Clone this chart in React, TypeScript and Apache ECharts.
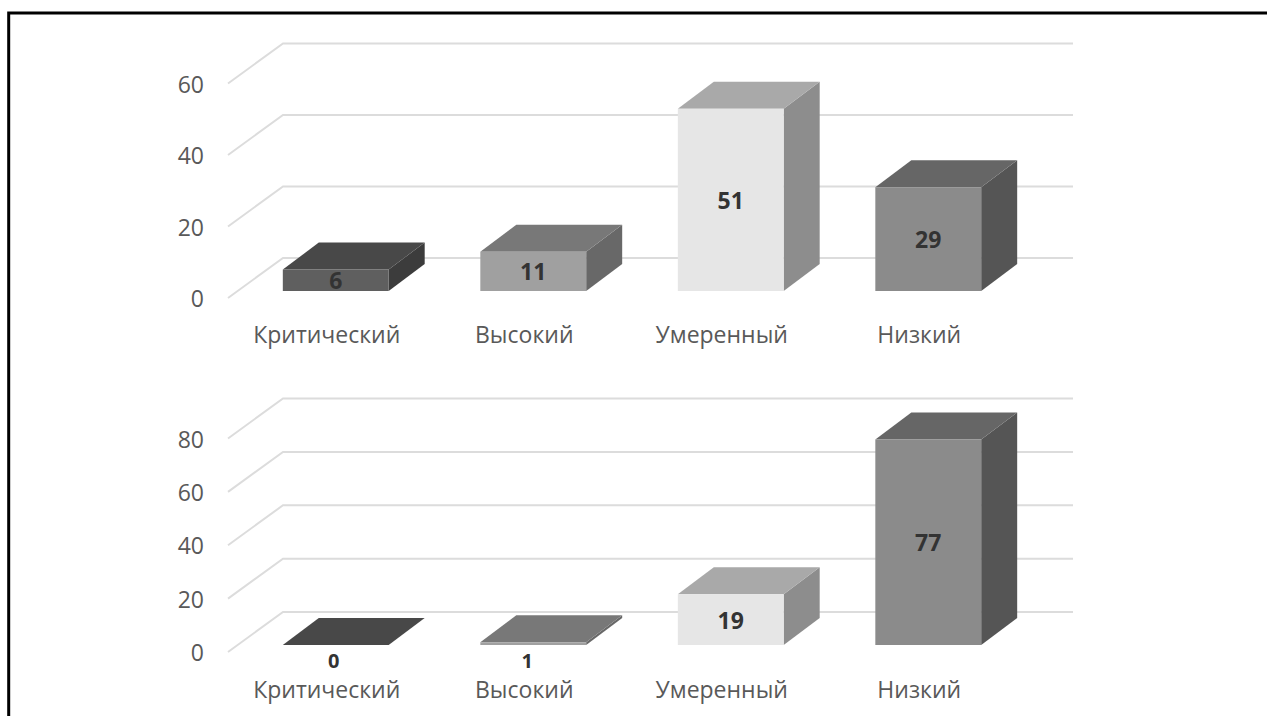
import React, { useEffect, useRef } from "react";
import * as echarts from "echarts";

// Risk levels shared by both panels
const categories = ["Критический", "Высокий", "Умеренный", "Низкий"];
const upperValues = [6, 11, 51, 29];
const lowerValues = [0, 1, 19, 77];
const upperTicks = [0, 20, 40, 60];
const lowerTicks = [0, 20, 40, 60, 80];

// Grey shades per level: front, top and side faces of each box
const frontColors = ["#5f5f5f", "#a0a0a0", "#e6e6e6", "#8b8b8b"];
const topColors = ["#484848", "#787878", "#a9a9a9", "#666666"];
const sideColors = ["#3c3c3c", "#686868", "#8d8d8d", "#555555"];

const FONT = '"Open Sans", "Noto Sans", sans-serif';
const GRID_COLOR = "#dcdcdc";
const LABEL_COLOR = "#595959";

// Projection of the pseudo-3D scene
const WALL_DX = 55;
const WALL_DY = -40;
const BOX_DX = 36;
const BOX_DY = -27;
const BOX_SHIFT_X = 9;
const BOX_SHIFT_Y = -7;
const BOX_WIDTH_RATIO = 0.536;

// Labels of very low boxes sit under the box, nudged a little to the left
const LOW_VALUE_LIMIT = 5;
const lowLabelNudge = [-2, -6, 0, 0];

function renderWall(params: any, api: any) {
  const y = api.coord([0, api.value(1)])[1];
  const cs = params.coordSys;
  return {
    type: "polyline",
    silent: true,
    shape: {
      points: [
        [cs.x, y],
        [cs.x + WALL_DX, y + WALL_DY],
        [cs.x + cs.width + WALL_DX, y + WALL_DY],
      ],
    },
    style: { stroke: GRID_COLOR, lineWidth: 2, fill: "none" },
  };
}

function renderBox(params: any, api: any) {
  const i = api.value(0);
  const value = api.value(1);
  const w = api.size([1, 0])[0] * BOX_WIDTH_RATIO;
  const [cx, topRaw] = api.coord([i, value]);
  const baseRaw = api.coord([i, 0])[1];
  const left = cx + BOX_SHIFT_X - w / 2;
  const right = left + w;
  const top = topRaw + BOX_SHIFT_Y;
  const base = baseRaw + BOX_SHIFT_Y;
  const low = value < LOW_VALUE_LIMIT;
  const labelX = left + w / 2 + (low ? lowLabelNudge[i] : 0);
  const labelY = low ? base + 15 : (top + base) / 2;
  return {
    type: "group",
    children: [
      {
        type: "polygon",
        shape: { points: [[right, base], [right + BOX_DX, base + BOX_DY], [right + BOX_DX, top + BOX_DY], [right, top]] },
        style: { fill: sideColors[i] },
      },
      {
        type: "polygon",
        shape: { points: [[left, top], [left + BOX_DX, top + BOX_DY], [right + BOX_DX, top + BOX_DY], [right, top]] },
        style: { fill: topColors[i] },
      },
      {
        type: "rect",
        shape: { x: left, y: top, width: w, height: base - top },
        style: { fill: frontColors[i] },
      },
      {
        type: "text",
        style: {
          text: String(value),
          x: labelX,
          y: labelY,
          align: "center",
          verticalAlign: "middle",
          fontFamily: FONT,
          fontSize: low ? 20 : 23,
          fontWeight: 700,
          fill: "#333333",
        },
      },
    ],
  };
}

function panelAxes(gridIndex: number, max: number, labelMargin: number) {
  return {
    x: {
      type: "category",
      gridIndex,
      data: categories,
      axisLine: { show: false },
      axisTick: { show: false },
      splitLine: { show: false },
      axisLabel: { color: LABEL_COLOR, fontFamily: FONT, fontSize: 23, margin: labelMargin, interval: 0 },
    },
    y: {
      type: "value",
      gridIndex,
      min: 0,
      max,
      interval: 20,
      axisLine: { show: false },
      axisTick: { show: false },
      splitLine: { show: false },
      axisLabel: { color: LABEL_COLOR, fontFamily: FONT, fontSize: 23, margin: 24 },
    },
  };
}

function panelSeries(gridIndex: number, ticks: number[], values: number[]) {
  return [
    {
      type: "custom",
      xAxisIndex: gridIndex,
      yAxisIndex: gridIndex,
      renderItem: renderWall,
      data: ticks.map((t) => [0, t]),
      silent: true,
      z: 1,
    },
    {
      type: "custom",
      xAxisIndex: gridIndex,
      yAxisIndex: gridIndex,
      renderItem: renderBox,
      data: values.map((v, i) => [i, v]),
      z: 2,
    },
  ];
}

export default function App() {
  const ref = useRef<HTMLDivElement>(null);

  useEffect(() => {
    document.body.style.margin = "0";
    document.body.style.background = "#ffffff";
    const chart = echarts.init(ref.current!, undefined, { renderer: "svg" });
    const upper = panelAxes(0, 60, 24);
    const lower = panelAxes(1, 80, 25);
    chart.setOption({
      animation: false,
      backgroundColor: "#ffffff",
      grid: [
        { left: 228, top: 83.5, width: 790, height: 214.5 },
        { left: 228, top: 438.5, width: 790, height: 213.5 },
      ],
      xAxis: [upper.x, lower.x],
      yAxis: [upper.y, lower.y],
      series: [...panelSeries(0, upperTicks, upperValues), ...panelSeries(1, lowerTicks, lowerValues)],
      graphic: [
        {
          type: "polyline",
          silent: true,
          shape: { points: [[8.7, 716], [8.7, 13], [1267, 13]] },
          style: { stroke: "#000000", lineWidth: 3, fill: "none" },
        },
      ],
    });
    return () => chart.dispose();
  }, []);

  return <div ref={ref} style={{ width: 1267, height: 716 }} />;
}
